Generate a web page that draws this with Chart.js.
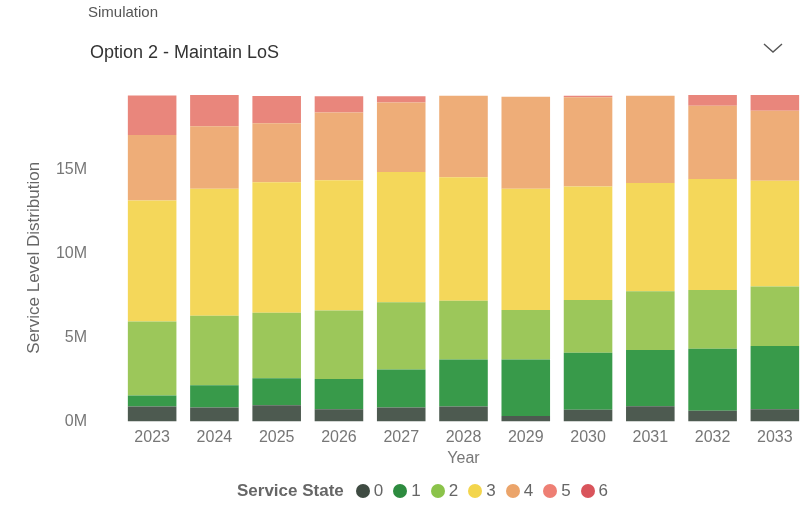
<!DOCTYPE html>
<html>
<head>
<meta charset="utf-8">
<script src="https://cdn.jsdelivr.net/npm/chart.js@4"></script>
<style>
  body { margin: 0; background: #fff; font-family: "Liberation Sans", Arial, sans-serif; }
  #wrap { position: relative; width: 809px; height: 509px; overflow: hidden; }
  #chart { position: absolute; left: 0; top: 0; }
  .sim { position: absolute; left: 88px; top: 3px; font-size: 15px; color: #555; }
  .option { position: absolute; left: 90px; top: 42px; font-size: 18px; color: #333; }
  .chev { position: absolute; left: 762px; top: 41px; }
  #legend { position: absolute; left: 237px; top: 481px; display: flex; align-items: center; font-size: 17px; color: #666; }
  #legend b { color: #666; margin-right: 12px; }
  #legend span.item { display: flex; align-items: center; margin-right: 10px; }
  #legend i { display: inline-block; width: 14px; height: 14px; border-radius: 50%; margin-right: 4px; }
</style>
</head>
<body>
<div id="wrap">
  <canvas id="chart" width="809" height="509"></canvas>
  <div class="sim">Simulation</div>
  <div class="option">Option 2 - Maintain LoS</div>
  <svg class="chev" width="22" height="14"><polyline points="2,3 11,11 20,3" fill="none" stroke="#555" stroke-width="1.4"/></svg>
  <div id="legend"></div>
</div>
<script>
const years = ['2023', '2024', '2025', '2026', '2027', '2028', '2029', '2030', '2031', '2032', '2033'];
const states = ['0', '1', '2', '3', '4', '5', '6'];

// service level distribution per state, in millions
const state0 = [0.90, 0.84, 0.98, 0.74, 0.84, 0.90, 0.34, 0.70, 0.92, 0.64, 0.74];
const state1 = [0.66, 1.32, 1.60, 1.80, 2.26, 2.80, 3.36, 3.40, 3.34, 3.70, 3.76];
const state2 = [4.40, 4.14, 3.90, 4.08, 4.00, 3.50, 2.94, 3.14, 3.50, 3.50, 3.54];
const state3 = [7.20, 7.56, 7.76, 7.74, 7.76, 7.34, 7.22, 6.76, 6.44, 6.60, 6.30];
const state4 = [3.90, 3.72, 3.52, 4.04, 4.14, 4.86, 5.48, 5.30, 5.20, 4.36, 4.16];
const state5 = [2.35, 1.86, 1.62, 0.96, 0.36, 0.00, 0.00, 0.10, 0.00, 0.64, 0.94];
const state6 = [0, 0, 0, 0, 0, 0, 0, 0, 0, 0, 0];

const yTicks = [0, 5, 10, 15];

const seriesValues = [state0, state1, state2, state3, state4, state5, state6];
const barColors = ['#4d5a50', '#389a4a', '#9cc75a', '#f4d75a', '#eead78', '#e9867c', '#d8545b'];
const dotColors = ['#3f4b42', '#2d8b3f', '#8bc34a', '#f3d54c', '#eba46a', '#ee7f74', '#d9545b'];

const datasets = states.map((s, i) => ({
  label: s,
  data: seriesValues[i].map(v => v * 1e6),
  backgroundColor: barColors[i],
  borderWidth: 0,
  categoryPercentage: 0.78,
  barPercentage: 1
}));

const tickFont = { family: '"Liberation Sans", Arial, sans-serif', size: 16 };

new Chart(document.getElementById('chart'), {
  type: 'bar',
  data: { labels: years, datasets: datasets },
  options: {
    responsive: false,
    animation: false,
    layout: { padding: { top: 94, left: 24, right: 3, bottom: 41 } },
    plugins: { legend: { display: false }, tooltip: { enabled: false } },
    scales: {
      x: {
        stacked: true,
        grid: { display: false, drawTicks: false },
        border: { display: false },
        ticks: { color: '#777', font: tickFont, padding: 6 },
        title: { display: true, text: 'Year', color: '#777', font: tickFont, padding: { top: -4, bottom: 0 } }
      },
      y: {
        stacked: true,
        min: 0,
        max: 19.5e6,
        afterBuildTicks: axis => { axis.ticks = yTicks.map(t => ({ value: t * 1e6 })); },
        afterFit: axis => { axis.width = 97; },
        grid: { display: false, drawTicks: false },
        border: { display: false },
        ticks: {
          color: '#777',
          font: tickFont,
          padding: 34,
          callback: v => (v / 1e6) + 'M'
        },
        title: {
          display: true,
          text: 'Service Level Distribution',
          color: '#666',
          font: { family: '"Liberation Sans", Arial, sans-serif', size: 17 },
          padding: 0
        }
      }
    }
  }
});

const legend = document.getElementById('legend');
legend.innerHTML = '<b>Service State</b>' + states.map((s, i) =>
  '<span class="item"><i style="background:' + dotColors[i] + '"></i>' + s + '</span>').join('');
</script>
</body>
</html>
